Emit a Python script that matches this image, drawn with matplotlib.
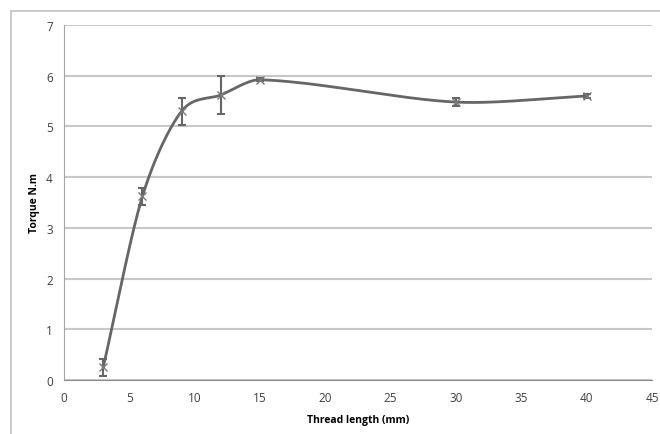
import numpy as np
from matplotlib import pyplot as plt
from matplotlib.lines import Line2D

# data
thread_length = [3, 6, 9, 12, 15, 30, 40]
torque = [0.25, 3.62, 5.30, 5.62, 5.92, 5.48, 5.60]
torque_err = [0.17, 0.16, 0.27, 0.37, 0.03, 0.08, 0.04]
x_ticks = [0, 5, 10, 15, 20, 25, 30, 35, 40, 45]
y_ticks = [0, 1, 2, 3, 4, 5, 6, 7]


def smooth(xs, ys, n=40, tension=0.9):
    # cubic bezier through the points, tangents from neighbours (smoothed line)
    xs = np.asarray(xs, float)
    ys = np.asarray(ys, float)
    k = len(xs)
    slope = np.zeros(k)
    for i in range(k):
        a = max(i - 1, 0)
        b = min(i + 1, k - 1)
        slope[i] = (ys[b] - ys[a]) / (xs[b] - xs[a])
    t = np.linspace(0, 1, n)
    out_x, out_y = [], []
    for i in range(k - 1):
        h = xs[i + 1] - xs[i]
        p1 = np.array([xs[i], ys[i]])
        p2 = np.array([xs[i + 1], ys[i + 1]])
        c1 = p1 + np.array([h, slope[i] * h]) * tension / 3
        c2 = p2 - np.array([h, slope[i + 1] * h]) * tension / 3
        b = ((1 - t) ** 3)[:, None] * p1 + (3 * (1 - t) ** 2 * t)[:, None] * c1 \
            + (3 * (1 - t) * t ** 2)[:, None] * c2 + (t ** 3)[:, None] * p2
        out_x.extend(b[:, 0])
        out_y.extend(b[:, 1])
    return out_x, out_y


def main():
    plt.rcParams["font.family"] = ["Open Sans", "DejaVu Sans"]
    fig = plt.figure(figsize=(6.6, 4.35), dpi=100)
    ax = fig.add_axes([64 / 660, 1 - 381 / 435, 588 / 660, 355 / 435])

    # outer chart border (cropped at right and bottom)
    fig.add_artist(Line2D([11 / 660, 1], [1 - 12 / 435, 1 - 12 / 435],
                          color="#c0c0c0", lw=1.2, transform=fig.transFigure))
    fig.add_artist(Line2D([11 / 660, 11 / 660], [0, 1 - 12 / 435],
                          color="#c0c0c0", lw=1.2, transform=fig.transFigure))

    sx, sy = smooth(thread_length, torque)
    ax.plot(sx, sy, color="#666666", lw=2, zorder=3)
    ax.errorbar(thread_length, torque, yerr=torque_err, fmt="none",
                ecolor="#666666", elinewidth=1.5, capsize=3, capthick=1.5, zorder=4)
    ax.plot(thread_length, torque, ls="none", marker="x", ms=6, mew=1,
            color="#7a7a7a", zorder=5)

    ax.set_xlim(0, 45)
    ax.set_ylim(0, 7)
    ax.set_xticks(x_ticks)
    ax.set_yticks(y_ticks)
    ax.yaxis.grid(True, color="#c8c8c8", lw=1.5)
    ax.set_axisbelow(True)
    for side in ("top", "right"):
        ax.spines[side].set_visible(False)
    ax.spines["left"].set_color("#a6a6a6")
    ax.spines["bottom"].set_color("#8c8c8c")
    ax.tick_params(length=0, labelsize=8.5, colors="#404040", pad=8)
    ax.set_xlabel("Thread length (mm)", fontsize=7.5, fontweight="bold", labelpad=7)
    ax.set_ylabel("Torque N.m", fontsize=7.5, fontweight="bold", labelpad=4)

    fig.savefig("out.png")


if __name__ == "__main__":
    main()
